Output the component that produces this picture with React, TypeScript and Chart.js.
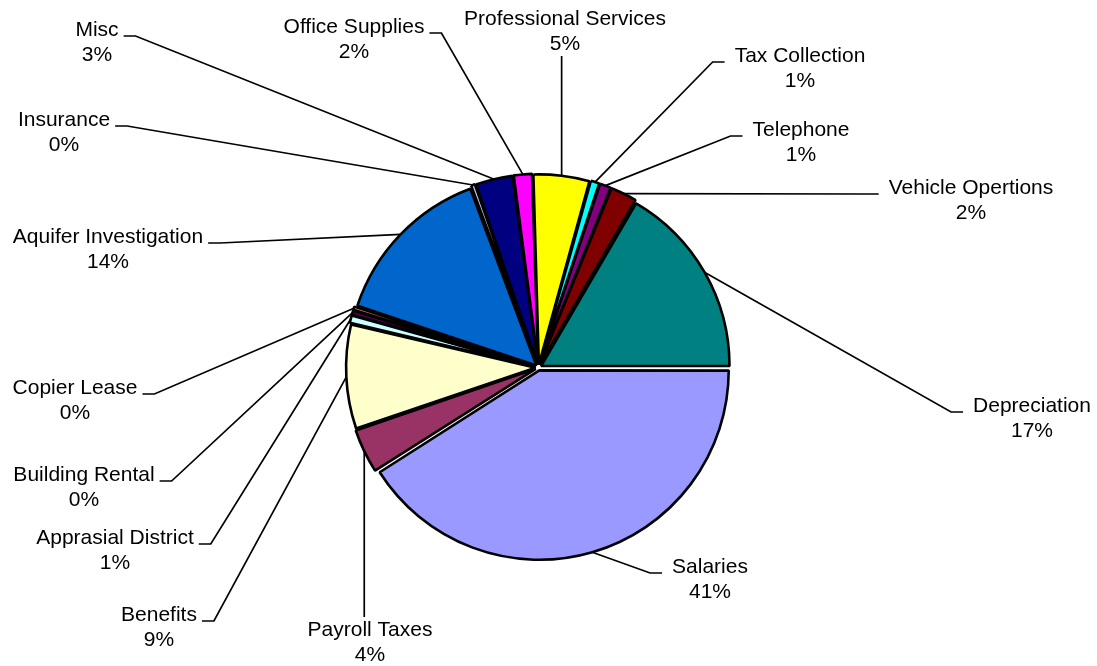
import React, { useEffect, useRef } from "react";
import { Chart, registerables } from "chart.js";

Chart.register(...registerables);

const categories = [
  "Salaries",
  "Payroll Taxes",
  "Benefits",
  "Apprasial District",
  "Building Rental",
  "Copier Lease",
  "Aquifer Investigation",
  "Insurance",
  "Misc",
  "Office Supplies",
  "Professional Services",
  "Tax Collection",
  "Telephone",
  "Vehicle Opertions",
  "Depreciation",
];

const shares = [41.0, 3.8, 8.9, 0.7, 0.4, 0.35, 14.2, 0.4, 3.2, 1.6, 4.8, 0.8, 1.0, 2.3, 16.6];

const sliceColors = [
  "#9999FF",
  "#993366",
  "#FFFFCC",
  "#CCFFFF",
  "#660066",
  "#FF8080",
  "#0066CC",
  "#CCCCFF",
  "#000080",
  "#FF00FF",
  "#FFFF00",
  "#00FFFF",
  "#800080",
  "#800000",
  "#008080",
];

// label layout: text centre x, first-line centre y, side of the leader line
const labelLayout: [number, number, string][] = [
  [710, 567, "right"],
  [370, 630, "below"],
  [159, 615, "left"],
  [115, 538, "left"],
  [84, 475, "left"],
  [75, 388, "left"],
  [108, 237, "left"],
  [64, 120, "left"],
  [97, 30, "left"],
  [354, 27, "left"],
  [565, 19, "above"],
  [800, 56, "right"],
  [801, 130, "right"],
  [971, 188, "right"],
  [1032, 406, "right"],
];

const FONT = '21px "Liberation Sans", Arial, sans-serif';
const LINE_GAP = 25;

const labelPlugin = {
  id: "leaderLabels",
  afterDatasetsDraw(chart: any) {
    const ctx = chart.ctx as CanvasRenderingContext2D;
    const meta = chart.getDatasetMeta(0);
    const data = chart.data.datasets[0].data as number[];
    const total = data.reduce((a, b) => a + b, 0);
    ctx.save();
    ctx.font = FONT;
    ctx.fillStyle = "#000";
    ctx.strokeStyle = "#000";
    ctx.lineWidth = 1.7;
    ctx.textAlign = "center";
    ctx.textBaseline = "middle";
    meta.data.forEach((el: any, i: number) => {
      const p = el.getProps(["x", "y", "startAngle", "endAngle", "outerRadius"], true);
      const off = (el.options.offset || 0) / 4;
      const mid = (p.startAngle + p.endAngle) / 2;
      const circ = p.endAngle - p.startAngle;
      const fix = 1 - Math.sin(Math.min(Math.PI, circ));
      const d = p.outerRadius + off + off * fix;
      const sx = p.x + Math.cos(mid) * d;
      const sy = p.y + Math.sin(mid) * d;
      const [cx, cy, side] = labelLayout[i];
      const name = chart.data.labels[i] as string;
      const pct = Math.round((data[i] / total) * 100) + "%";
      const w = Math.max(ctx.measureText(name).width, ctx.measureText(pct).width);
      ctx.beginPath();
      if (side === "left") {
        const ex = cx + w / 2 + 5;
        const ey = cy + 6;
        ctx.moveTo(sx, sy);
        ctx.lineTo(ex + 12, ey);
        ctx.lineTo(ex, ey);
      } else if (side === "right") {
        const ex = cx - w / 2 - 10;
        const ey = cy + 6;
        ctx.moveTo(sx, sy);
        ctx.lineTo(ex - 12, ey);
        ctx.lineTo(ex, ey);
      } else if (side === "above") {
        ctx.moveTo(sx, sy);
        ctx.lineTo(sx, cy + LINE_GAP + 12);
      } else {
        ctx.moveTo(sx, sy);
        ctx.lineTo(sx, cy - 13);
      }
      ctx.stroke();
      ctx.fillText(name, cx, cy);
      ctx.fillText(pct, cx, cy + LINE_GAP);
    });
    ctx.restore();
  },
};

export default function App() {
  const canvasRef = useRef<HTMLCanvasElement | null>(null);

  useEffect(() => {
    if (!canvasRef.current) return;
    const chart = new Chart(canvasRef.current, {
      type: "pie",
      data: {
        labels: categories,
        datasets: [
          {
            data: shares,
            backgroundColor: sliceColors,
            borderColor: "#000000",
            borderWidth: 2.6,
            offset: 12,
          },
        ],
      },
      options: {
        animation: false,
        responsive: true,
        maintainAspectRatio: false,
        rotation: 90,
        radius: 188,
        layout: { padding: { left: 0, right: 20, top: 69, bottom: 0 } },
        plugins: {
          legend: { display: false },
          tooltip: { enabled: false },
        },
        events: [],
      },
      plugins: [labelPlugin],
    });
    return () => chart.destroy();
  }, []);

  return (
    <div
      style={{
        position: "fixed",
        left: 0,
        top: 0,
        width: 1097,
        height: 666,
        background: "#ffffff",
      }}
    >
      <canvas ref={canvasRef} />
    </div>
  );
}
